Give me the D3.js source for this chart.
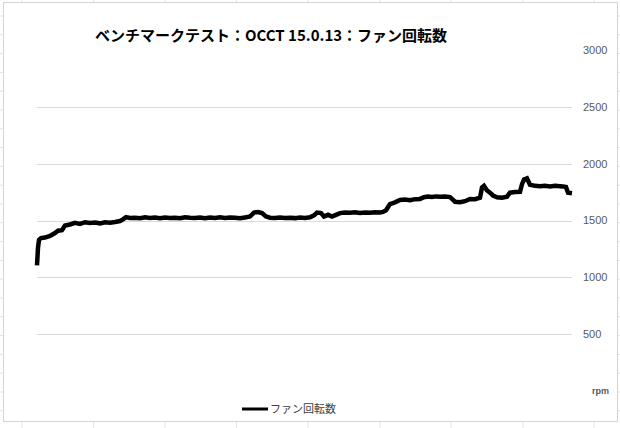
<!DOCTYPE html>
<html lang="ja">
<head>
<meta charset="UTF-8">
<title>OCCT fan rpm</title>
<script src="https://d3js.org/d3.v7.min.js"></script>
<style>
  html, body { margin: 0; padding: 0; background: #fff; }
  svg { display: block; font-family: "Noto Sans CJK JP", "Noto Sans", sans-serif; }
</style>
</head>
<body>
<svg id="chart" width="620" height="428"></svg>
<script>
// elapsed seconds and fan speed (rpm)
const seconds = [
  0, 2, 4, 8, 16, 26, 36, 42, 50, 56, 66, 76, 86, 96, 106, 116, 126, 136, 146, 156,
  166, 172, 178, 186, 196, 206, 216, 226, 236, 246, 256, 266, 276, 286, 296, 306,
  316, 326, 336, 346, 356, 366, 376, 386, 396, 406, 416, 426, 434, 442, 450, 458,
  466, 476, 486, 496, 506, 516, 526, 536, 546, 554, 560, 568, 574, 582, 590, 598,
  606, 616, 626, 636, 646, 656, 666, 676, 686, 692, 698, 706, 716, 726, 736, 746,
  756, 766, 774, 782, 790, 798, 806, 816, 826, 830, 836, 846, 856, 866, 876, 886,
  890, 894, 900, 906, 912, 920, 930, 940, 946, 956, 966, 970, 974, 980, 986, 996,
  1006, 1016, 1026, 1036, 1046, 1052, 1058, 1062, 1070
];
const fanRpm = [
  1105, 1260, 1330, 1345, 1350, 1365, 1390, 1410, 1415, 1455, 1465, 1480, 1470, 1485, 1478, 1482, 1475, 1485, 1480, 1487,
  1495, 1510, 1530, 1522, 1525, 1520, 1528, 1522, 1526, 1520, 1527, 1523, 1525, 1520, 1528, 1524,
  1522, 1527, 1521, 1526, 1523, 1528, 1522, 1526, 1524, 1520, 1527, 1535, 1570, 1575, 1565, 1535,
  1525, 1522, 1527, 1523, 1525, 1521, 1527, 1523, 1528, 1545, 1570, 1565, 1535, 1550, 1535, 1550,
  1565, 1570, 1568, 1572, 1567, 1571, 1569, 1573, 1570, 1575, 1590, 1645, 1660, 1680, 1685, 1678,
  1688, 1690, 1705, 1710, 1706, 1712, 1708, 1711, 1706, 1690, 1665, 1660, 1670, 1690, 1688, 1700,
  1790, 1805, 1765, 1745, 1720, 1705, 1700, 1710, 1745, 1750, 1752, 1820, 1860, 1870, 1815, 1805,
  1802, 1806, 1800, 1805, 1802, 1800, 1795, 1745, 1740
];
const yTicks = [500, 1000, 1500, 2000, 2500, 3000];
const gridTicks = [500, 1000, 1500, 2000, 2500];
const title = "ベンチマークテスト：OCCT 15.0.13：ファン回転数";
const seriesName = "ファン回転数";
const unit = "rpm";

const data = seconds.map((s, i) => ({ t: s, v: fanRpm[i] }));
const svg = d3.select("#chart");

// faint spreadsheet cells behind the chart
const cols = [22, 93.5, 165, 236.5, 308, 380, 451, 523, 594];
svg.selectAll(".col").data(cols).enter().append("line")
  .attr("x1", d => d).attr("x2", d => d).attr("y1", 0).attr("y2", 428)
  .attr("stroke", "#e3e3e3").attr("stroke-width", 1);
svg.selectAll(".row").data(d3.range(16, 428, 18.8)).enter().append("line")
  .attr("x1", 0).attr("x2", 620).attr("y1", d => d).attr("y2", d => d)
  .attr("stroke", "#e3e3e3").attr("stroke-width", 1);

// chart area
svg.append("rect")
  .attr("x", 3.5).attr("y", 2.5).attr("width", 614).attr("height", 419)
  .attr("fill", "#fff").attr("stroke", "#d4d4d4");

const x = d3.scaleLinear().domain([0, 1070]).range([37, 572]);
const y = d3.scaleLinear().domain([0, 3000]).range([391, 50]);

svg.append("g").selectAll("line").data(gridTicks).enter().append("line")
  .attr("x1", 37).attr("x2", 572)
  .attr("y1", d => Math.round(y(d)) + 0.5).attr("y2", d => Math.round(y(d)) + 0.5)
  .attr("stroke", "#d9d9d9");

svg.append("g").selectAll("text").data(yTicks).enter().append("text")
  .attr("x", 583).attr("y", d => y(d)).attr("dy", "0.35em")
  .attr("fill", "#595959").attr("font-size", 11)
  .attr("font-family", "Liberation Sans, sans-serif")
  .text(d => d);

svg.append("text")
  .attr("x", 592).attr("y", y(0)).attr("dy", "0.35em")
  .attr("fill", "#595959").attr("font-size", 9).attr("font-weight", "bold")
  .attr("font-family", "Liberation Sans, sans-serif")
  .text(unit);

// series
const line = d3.line().x(d => x(d.t)).y(d => y(d.v));
svg.append("path").datum(data)
  .attr("d", line)
  .attr("fill", "none").attr("stroke", "#000").attr("stroke-width", 4.5)
  .attr("stroke-linejoin", "miter").attr("stroke-miterlimit", 2);

// title
svg.append("text")
  .attr("x", 271).attr("y", 41)
  .attr("text-anchor", "middle")
  .attr("font-size", 15).attr("font-weight", "bold").attr("fill", "#000")
  .text(title);

// legend
svg.append("line")
  .attr("x1", 242).attr("x2", 268).attr("y1", 409).attr("y2", 409)
  .attr("stroke", "#000").attr("stroke-width", 3);
svg.append("text")
  .attr("x", 270).attr("y", 409).attr("dy", "0.35em")
  .attr("font-size", 11).attr("fill", "#404040")
  .text(seriesName);
</script>
</body>
</html>
